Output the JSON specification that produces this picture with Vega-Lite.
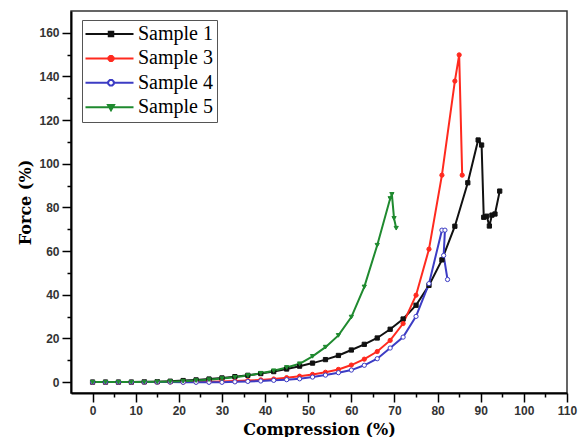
{
  "$schema": "https://vega.github.io/schema/vega-lite/v6.json",
  "width": 496,
  "height": 382,
  "autosize": "none",
  "padding": {"left": 71, "top": 11, "right": 14, "bottom": 44},
  "background": "white",
  "config": {"view": {"stroke": "#333333", "strokeWidth": 1.5}},
  "data": {"values": [
    {"sample": "Sample 1", "i": 0, "compression": 0, "force": 0},
    {"sample": "Sample 1", "i": 1, "compression": 3, "force": 0},
    {"sample": "Sample 1", "i": 2, "compression": 6, "force": 0},
    {"sample": "Sample 1", "i": 3, "compression": 9, "force": 0},
    {"sample": "Sample 1", "i": 4, "compression": 12, "force": 0.1},
    {"sample": "Sample 1", "i": 5, "compression": 15, "force": 0.2},
    {"sample": "Sample 1", "i": 6, "compression": 18, "force": 0.4},
    {"sample": "Sample 1", "i": 7, "compression": 21, "force": 0.7},
    {"sample": "Sample 1", "i": 8, "compression": 24, "force": 1.0},
    {"sample": "Sample 1", "i": 9, "compression": 27, "force": 1.4},
    {"sample": "Sample 1", "i": 10, "compression": 30, "force": 1.9},
    {"sample": "Sample 1", "i": 11, "compression": 33, "force": 2.5},
    {"sample": "Sample 1", "i": 12, "compression": 36, "force": 3.1},
    {"sample": "Sample 1", "i": 13, "compression": 39, "force": 3.9},
    {"sample": "Sample 1", "i": 14, "compression": 42, "force": 4.8},
    {"sample": "Sample 1", "i": 15, "compression": 45, "force": 6.0},
    {"sample": "Sample 1", "i": 16, "compression": 48, "force": 7.3},
    {"sample": "Sample 1", "i": 17, "compression": 51, "force": 8.7},
    {"sample": "Sample 1", "i": 18, "compression": 54, "force": 10.3},
    {"sample": "Sample 1", "i": 19, "compression": 57, "force": 12.2},
    {"sample": "Sample 1", "i": 20, "compression": 60, "force": 14.7},
    {"sample": "Sample 1", "i": 21, "compression": 63, "force": 17.3},
    {"sample": "Sample 1", "i": 22, "compression": 66, "force": 20.2},
    {"sample": "Sample 1", "i": 23, "compression": 69, "force": 24.2},
    {"sample": "Sample 1", "i": 24, "compression": 72, "force": 28.9},
    {"sample": "Sample 1", "i": 25, "compression": 75, "force": 35.2},
    {"sample": "Sample 1", "i": 26, "compression": 78, "force": 44.3},
    {"sample": "Sample 1", "i": 27, "compression": 81, "force": 56},
    {"sample": "Sample 1", "i": 28, "compression": 84, "force": 71.4},
    {"sample": "Sample 1", "i": 29, "compression": 87, "force": 91.3},
    {"sample": "Sample 1", "i": 30, "compression": 89.4, "force": 110.9},
    {"sample": "Sample 1", "i": 31, "compression": 90.2, "force": 108.6},
    {"sample": "Sample 1", "i": 32, "compression": 90.7, "force": 75.5},
    {"sample": "Sample 1", "i": 33, "compression": 91.4, "force": 76},
    {"sample": "Sample 1", "i": 34, "compression": 92, "force": 71.5},
    {"sample": "Sample 1", "i": 35, "compression": 92.6, "force": 76.5},
    {"sample": "Sample 1", "i": 36, "compression": 93.3, "force": 77},
    {"sample": "Sample 1", "i": 37, "compression": 94.4, "force": 87.5},

    {"sample": "Sample 3", "i": 0, "compression": 0, "force": 0},
    {"sample": "Sample 3", "i": 1, "compression": 3, "force": 0},
    {"sample": "Sample 3", "i": 2, "compression": 6, "force": 0},
    {"sample": "Sample 3", "i": 3, "compression": 9, "force": 0},
    {"sample": "Sample 3", "i": 4, "compression": 12, "force": 0},
    {"sample": "Sample 3", "i": 5, "compression": 15, "force": 0},
    {"sample": "Sample 3", "i": 6, "compression": 18, "force": 0},
    {"sample": "Sample 3", "i": 7, "compression": 21, "force": 0},
    {"sample": "Sample 3", "i": 8, "compression": 24, "force": 0.1},
    {"sample": "Sample 3", "i": 9, "compression": 27, "force": 0.2},
    {"sample": "Sample 3", "i": 10, "compression": 30, "force": 0.3},
    {"sample": "Sample 3", "i": 11, "compression": 33, "force": 0.5},
    {"sample": "Sample 3", "i": 12, "compression": 36, "force": 0.7},
    {"sample": "Sample 3", "i": 13, "compression": 39, "force": 1.0},
    {"sample": "Sample 3", "i": 14, "compression": 42, "force": 1.4},
    {"sample": "Sample 3", "i": 15, "compression": 45, "force": 2.0},
    {"sample": "Sample 3", "i": 16, "compression": 48, "force": 2.7},
    {"sample": "Sample 3", "i": 17, "compression": 51, "force": 3.5},
    {"sample": "Sample 3", "i": 18, "compression": 54, "force": 4.5},
    {"sample": "Sample 3", "i": 19, "compression": 57, "force": 5.8},
    {"sample": "Sample 3", "i": 20, "compression": 60, "force": 7.8},
    {"sample": "Sample 3", "i": 21, "compression": 63, "force": 10.5},
    {"sample": "Sample 3", "i": 22, "compression": 66, "force": 14.0},
    {"sample": "Sample 3", "i": 23, "compression": 69, "force": 19.1},
    {"sample": "Sample 3", "i": 24, "compression": 72, "force": 26.8},
    {"sample": "Sample 3", "i": 25, "compression": 75, "force": 39.8},
    {"sample": "Sample 3", "i": 26, "compression": 78, "force": 60.9},
    {"sample": "Sample 3", "i": 27, "compression": 81, "force": 94.8},
    {"sample": "Sample 3", "i": 28, "compression": 84, "force": 137.9},
    {"sample": "Sample 3", "i": 29, "compression": 85, "force": 149.9},
    {"sample": "Sample 3", "i": 30, "compression": 85.7, "force": 94.8},

    {"sample": "Sample 4", "i": 0, "compression": 0, "force": 0},
    {"sample": "Sample 4", "i": 1, "compression": 3, "force": 0},
    {"sample": "Sample 4", "i": 2, "compression": 6, "force": 0},
    {"sample": "Sample 4", "i": 3, "compression": 9, "force": 0},
    {"sample": "Sample 4", "i": 4, "compression": 12, "force": 0},
    {"sample": "Sample 4", "i": 5, "compression": 15, "force": 0},
    {"sample": "Sample 4", "i": 6, "compression": 18, "force": 0},
    {"sample": "Sample 4", "i": 7, "compression": 21, "force": -0.1},
    {"sample": "Sample 4", "i": 8, "compression": 24, "force": -0.1},
    {"sample": "Sample 4", "i": 9, "compression": 27, "force": -0.1},
    {"sample": "Sample 4", "i": 10, "compression": 30, "force": -0.1},
    {"sample": "Sample 4", "i": 11, "compression": 33, "force": 0.1},
    {"sample": "Sample 4", "i": 12, "compression": 36, "force": 0.3},
    {"sample": "Sample 4", "i": 13, "compression": 39, "force": 0.5},
    {"sample": "Sample 4", "i": 14, "compression": 42, "force": 0.8},
    {"sample": "Sample 4", "i": 15, "compression": 45, "force": 1.1},
    {"sample": "Sample 4", "i": 16, "compression": 48, "force": 1.5},
    {"sample": "Sample 4", "i": 17, "compression": 51, "force": 2.3},
    {"sample": "Sample 4", "i": 18, "compression": 54, "force": 3.2},
    {"sample": "Sample 4", "i": 19, "compression": 57, "force": 4.3},
    {"sample": "Sample 4", "i": 20, "compression": 60, "force": 5.5},
    {"sample": "Sample 4", "i": 21, "compression": 63, "force": 7.7},
    {"sample": "Sample 4", "i": 22, "compression": 66, "force": 10.7},
    {"sample": "Sample 4", "i": 23, "compression": 69, "force": 15.6},
    {"sample": "Sample 4", "i": 24, "compression": 72, "force": 20.6},
    {"sample": "Sample 4", "i": 25, "compression": 75, "force": 30.1},
    {"sample": "Sample 4", "i": 26, "compression": 78, "force": 45.1},
    {"sample": "Sample 4", "i": 27, "compression": 81, "force": 69.6},
    {"sample": "Sample 4", "i": 28, "compression": 81.7, "force": 69.6},
    {"sample": "Sample 4", "i": 29, "compression": 81.4, "force": 58},
    {"sample": "Sample 4", "i": 30, "compression": 82.3, "force": 47},

    {"sample": "Sample 5", "i": 0, "compression": 0, "force": 0},
    {"sample": "Sample 5", "i": 1, "compression": 3, "force": 0},
    {"sample": "Sample 5", "i": 2, "compression": 6, "force": 0},
    {"sample": "Sample 5", "i": 3, "compression": 9, "force": 0},
    {"sample": "Sample 5", "i": 4, "compression": 12, "force": 0},
    {"sample": "Sample 5", "i": 5, "compression": 15, "force": 0.1},
    {"sample": "Sample 5", "i": 6, "compression": 18, "force": 0.2},
    {"sample": "Sample 5", "i": 7, "compression": 21, "force": 0.4},
    {"sample": "Sample 5", "i": 8, "compression": 24, "force": 0.7},
    {"sample": "Sample 5", "i": 9, "compression": 27, "force": 1.1},
    {"sample": "Sample 5", "i": 10, "compression": 30, "force": 1.6},
    {"sample": "Sample 5", "i": 11, "compression": 33, "force": 2.2},
    {"sample": "Sample 5", "i": 12, "compression": 36, "force": 3.0},
    {"sample": "Sample 5", "i": 13, "compression": 39, "force": 4.0},
    {"sample": "Sample 5", "i": 14, "compression": 42, "force": 5.2},
    {"sample": "Sample 5", "i": 15, "compression": 45, "force": 6.7},
    {"sample": "Sample 5", "i": 16, "compression": 48, "force": 8.4},
    {"sample": "Sample 5", "i": 17, "compression": 51, "force": 11.8},
    {"sample": "Sample 5", "i": 18, "compression": 54, "force": 16},
    {"sample": "Sample 5", "i": 19, "compression": 57, "force": 21.4},
    {"sample": "Sample 5", "i": 20, "compression": 60, "force": 29.8},
    {"sample": "Sample 5", "i": 21, "compression": 63, "force": 43.6},
    {"sample": "Sample 5", "i": 22, "compression": 66, "force": 62.7},
    {"sample": "Sample 5", "i": 23, "compression": 69, "force": 84.1},
    {"sample": "Sample 5", "i": 24, "compression": 69.4, "force": 86},
    {"sample": "Sample 5", "i": 25, "compression": 69.9, "force": 75},
    {"sample": "Sample 5", "i": 26, "compression": 70.4, "force": 70.5}
  ]},
  "encoding": {
    "x": {
      "field": "compression", "type": "quantitative",
      "scale": {"domain": [-5, 110], "nice": false, "zero": false},
      "axis": {
        "values": [0, 5, 10, 15, 20, 25, 30, 35, 40, 45, 50, 55, 60, 65, 70, 75, 80, 85, 90, 95, 100, 105, 110],
        "labelExpr": "datum.value % 10 === 0 ? datum.label : ''",
        "tickSize": {"condition": {"test": "datum.value % 10 === 0", "value": 9}, "value": 4},
        "grid": false, "domainColor": "black", "domainWidth": 2, "tickColor": "black", "tickWidth": 1.5,
        "labelFont": "Liberation Sans", "labelFontSize": 12, "labelFontWeight": "bold", "labelColor": "#333333", "labelPadding": 3,
        "labelFlush": false, "labelOverlap": false,
        "title": "Compression (%)", "titleFont": "DejaVu Serif", "titleFontSize": 16, "titleFontWeight": "bold",
        "titleColor": "black", "titlePadding": 5
      }
    },
    "y": {
      "field": "force", "type": "quantitative",
      "scale": {"domain": [-5, 170], "nice": false, "zero": false},
      "axis": {
        "values": [0, 10, 20, 30, 40, 50, 60, 70, 80, 90, 100, 110, 120, 130, 140, 150, 160],
        "labelExpr": "datum.value % 20 === 0 ? datum.label : ''",
        "tickSize": {"condition": {"test": "datum.value % 20 === 0", "value": 9}, "value": 4},
        "grid": false, "domainColor": "black", "domainWidth": 2, "tickColor": "black", "tickWidth": 1.5,
        "labelFont": "Liberation Sans", "labelFontSize": 12, "labelFontWeight": "bold", "labelColor": "#333333", "labelPadding": 3,
        "labelFlush": false, "labelOverlap": false,
        "title": "Force (%)", "titleFont": "DejaVu Serif", "titleFontSize": 16, "titleFontWeight": "bold",
        "titleColor": "black", "titlePadding": 5
      }
    }
  },
  "layer": [
    {
      "mark": {"type": "line", "strokeWidth": 2},
      "encoding": {
        "color": {
          "field": "sample", "type": "nominal",
          "scale": {"domain": ["Sample 1", "Sample 3", "Sample 4", "Sample 5"], "range": ["#111111", "#ff2a1f", "#3c3cc4", "#1f8a2f"]},
          "legend": null
        },
        "order": {"field": "i", "type": "quantitative"}
      }
    },
    {
      "mark": {"type": "point", "size": 18, "strokeWidth": 1, "opacity": 1},
      "encoding": {
        "shape": {
          "field": "sample", "type": "nominal",
          "scale": {"domain": ["Sample 1", "Sample 3", "Sample 4", "Sample 5"], "range": ["square", "circle", "circle", "triangle-down"]},
          "legend": null
        },
        "fill": {
          "field": "sample", "type": "nominal",
          "scale": {"domain": ["Sample 1", "Sample 3", "Sample 4", "Sample 5"], "range": ["#111111", "#ff2a1f", "white", "#1f8a2f"]},
          "legend": null
        },
        "stroke": {
          "field": "sample", "type": "nominal",
          "scale": {"domain": ["Sample 1", "Sample 3", "Sample 4", "Sample 5"], "range": ["#111111", "#ff2a1f", "#3c3cc4", "#1f8a2f"]},
          "legend": null
        }
      }
    },
    {
      "transform": [{"filter": "datum.i < 0"}],
      "mark": {"type": "point", "size": 225, "strokeWidth": 2, "opacity": 1},
      "encoding": {
        "shape": {
          "field": "sample", "type": "nominal",
          "scale": {"domain": ["Sample 1", "Sample 3", "Sample 4", "Sample 5"], "range": [
            "M-1.4,0H5M1.7,-0.3H2.3V0.3H1.7Z",
            "M-1.4,0H5M2.333,0.138L2.138,0.333L1.862,0.333L1.667,0.138L1.667,-0.138L1.862,-0.333L2.138,-0.333L2.333,-0.138Z",
            "M-1.4,0H1.6M2.4,0H5M2.37,0.153L2.153,0.37L1.847,0.37L1.63,0.153L1.63,-0.153L1.847,-0.37L2.153,-0.37L2.37,-0.153Z",
            "M-1.4,0H5M1.6,-0.3L2.4,-0.3L2,0.4Z"
          ]},
          "legend": {
            "title": null, "orient": "none", "legendX": 11, "legendY": 9,
            "strokeColor": "#555555", "fillColor": "white", "padding": 4,
            "labelFont": "Liberation Serif", "labelFontSize": 20, "labelColor": "black",
            "symbolSize": 225, "symbolStrokeWidth": 2, "symbolOpacity": 1, "labelOffset": 32, "rowPadding": 4.4
          }
        },
        "fill": {
          "field": "sample", "type": "nominal",
          "scale": {"domain": ["Sample 1", "Sample 3", "Sample 4", "Sample 5"], "range": ["#111111", "#ff2a1f", "white", "#1f8a2f"]},
          "legend": {
            "title": null, "orient": "none", "legendX": 11, "legendY": 9,
            "strokeColor": "#555555", "fillColor": "white", "padding": 4,
            "labelFont": "Liberation Serif", "labelFontSize": 20, "labelColor": "black",
            "symbolSize": 225, "symbolStrokeWidth": 2, "symbolOpacity": 1, "labelOffset": 32, "rowPadding": 4.4
          }
        },
        "stroke": {
          "field": "sample", "type": "nominal",
          "scale": {"domain": ["Sample 1", "Sample 3", "Sample 4", "Sample 5"], "range": ["#111111", "#ff2a1f", "#3c3cc4", "#1f8a2f"]},
          "legend": {
            "title": null, "orient": "none", "legendX": 11, "legendY": 9,
            "strokeColor": "#555555", "fillColor": "white", "padding": 4,
            "labelFont": "Liberation Serif", "labelFontSize": 20, "labelColor": "black",
            "symbolSize": 225, "symbolStrokeWidth": 2, "symbolOpacity": 1, "labelOffset": 32, "rowPadding": 4.4
          }
        }
      }
    }
  ],
  "resolve": {"scale": {"shape": "independent", "fill": "independent", "stroke": "independent"}}
}
